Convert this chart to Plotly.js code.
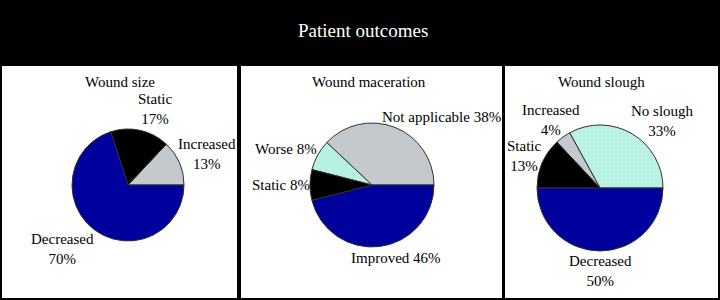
<!DOCTYPE html>
<html>
<head>
<meta charset="utf-8">
<script src="https://cdn.plot.ly/plotly-3.0.1.min.js"></script>
<style>
html,body{margin:0;padding:0;background:#000;}
#chart{width:720px;height:300px;}
</style>
</head>
<body>
<div id="chart"></div>
<script>
// ---- data ----
var chartTitle = "Patient outcomes";
var panelTitles = ["Wound size", "Wound maceration", "Wound slough"];

var sizeLabels = ["Increased", "Static", "Decreased"];
var sizeValues = [13, 17, 70];

var macerationLabels = ["Not applicable", "Worse", "Static", "Improved"];
var macerationValues = [38, 8, 8, 46];

var sloughLabels = ["No slough", "Increased", "Static", "Decreased"];
var sloughValues = [33, 4, 13, 50];

// ---- styles ----
var W = 720, H = 300;
function px(x){ return x / W; }
function py(y){ return 1 - y / H; }

var BLUE = "#00009c", BLACK = "#000000", GREY = "#c3c9cc", AQUA = "#b6f1e1";
var serif = "Liberation Serif, Times New Roman, serif";

function pieTrace(labels, values, colors, cx, cy, r, patterns){
  var m = {colors: colors, line: {color: "#303030", width: 1}};
  if (patterns) {
    m.pattern = {shape: patterns, fgcolor: "#cdf7ec", bgcolor: AQUA, size: 4, solidity: 0.15, fillmode: "replace"};
  }
  var total = values.reduce(function(a, b){ return a + b; }, 0);
  // first slice starts at 3 o'clock and runs counterclockwise
  var rot = 90 - 360 * values[0] / total;
  return {
    type: "pie",
    labels: labels,
    values: values,
    sort: false,
    direction: "counterclockwise",
    rotation: rot,
    textinfo: "none",
    hoverinfo: "label+percent",
    showlegend: false,
    marker: m,
    domain: {x: [px(cx - r), px(cx + r)], y: [py(cy + r), py(cy - r)]}
  };
}

var traces = [
  pieTrace(sizeLabels, sizeValues, [GREY, BLACK, BLUE], 128, 185, 56),
  pieTrace(macerationLabels, macerationValues, [GREY, AQUA, BLACK, BLUE], 372, 185, 62),
  pieTrace(sloughLabels, sloughValues, [AQUA, GREY, BLACK, BLUE], 600, 188, 63, [".", "", "", ""])
];

function lbl(labels, values, i, twoLine){
  return labels[i] + (twoLine ? "<br>" : " ") + values[i] + "%";
}
function ann(text, x, y, size){
  return {text: text, x: px(x), y: py(y), xref: "paper", yref: "paper",
          xanchor: "center", yanchor: "middle", showarrow: false,
          font: {family: serif, size: size || 15, color: "#000"}};
}

var annotations = [
  ann(panelTitles[0], 120, 82),
  ann(panelTitles[1], 369, 82),
  ann(panelTitles[2], 601, 82),
  // wound size
  ann(lbl(sizeLabels, sizeValues, 1, true), 155, 109),
  ann(lbl(sizeLabels, sizeValues, 0, true), 207, 154),
  ann(lbl(sizeLabels, sizeValues, 2, true), 62, 249),
  // maceration
  ann(lbl(macerationLabels, macerationValues, 0, false), 441, 117),
  ann(lbl(macerationLabels, macerationValues, 1, false), 286, 149),
  ann(lbl(macerationLabels, macerationValues, 2, false), 281, 185),
  ann(lbl(macerationLabels, macerationValues, 3, false), 396, 258),
  // slough
  ann(lbl(sloughLabels, sloughValues, 0, true), 662, 121),
  ann(lbl(sloughLabels, sloughValues, 1, true), 551, 120),
  ann(lbl(sloughLabels, sloughValues, 2, true), 524, 156),
  ann(lbl(sloughLabels, sloughValues, 3, true), 600, 271)
];
var t = ann(chartTitle, 363, 31, 19);
t.font.color = "#ffffff";
annotations.push(t);

function panel(x0, y0, x1, y1){
  return {type: "rect", xref: "paper", yref: "paper", layer: "below",
          x0: px(x0), x1: px(x1), y0: py(y1), y1: py(y0),
          fillcolor: "#ffffff", line: {width: 0}};
}

var layout = {
  width: W, height: H,
  margin: {l: 0, r: 0, t: 0, b: 0},
  paper_bgcolor: "#000000",
  plot_bgcolor: "#000000",
  shapes: [panel(2, 66, 237, 298), panel(241, 66, 502, 298), panel(505, 66, 718, 298)],
  annotations: annotations
};

Plotly.newPlot("chart", traces, layout, {displayModeBar: false, staticPlot: true});
</script>
</body>
</html>
